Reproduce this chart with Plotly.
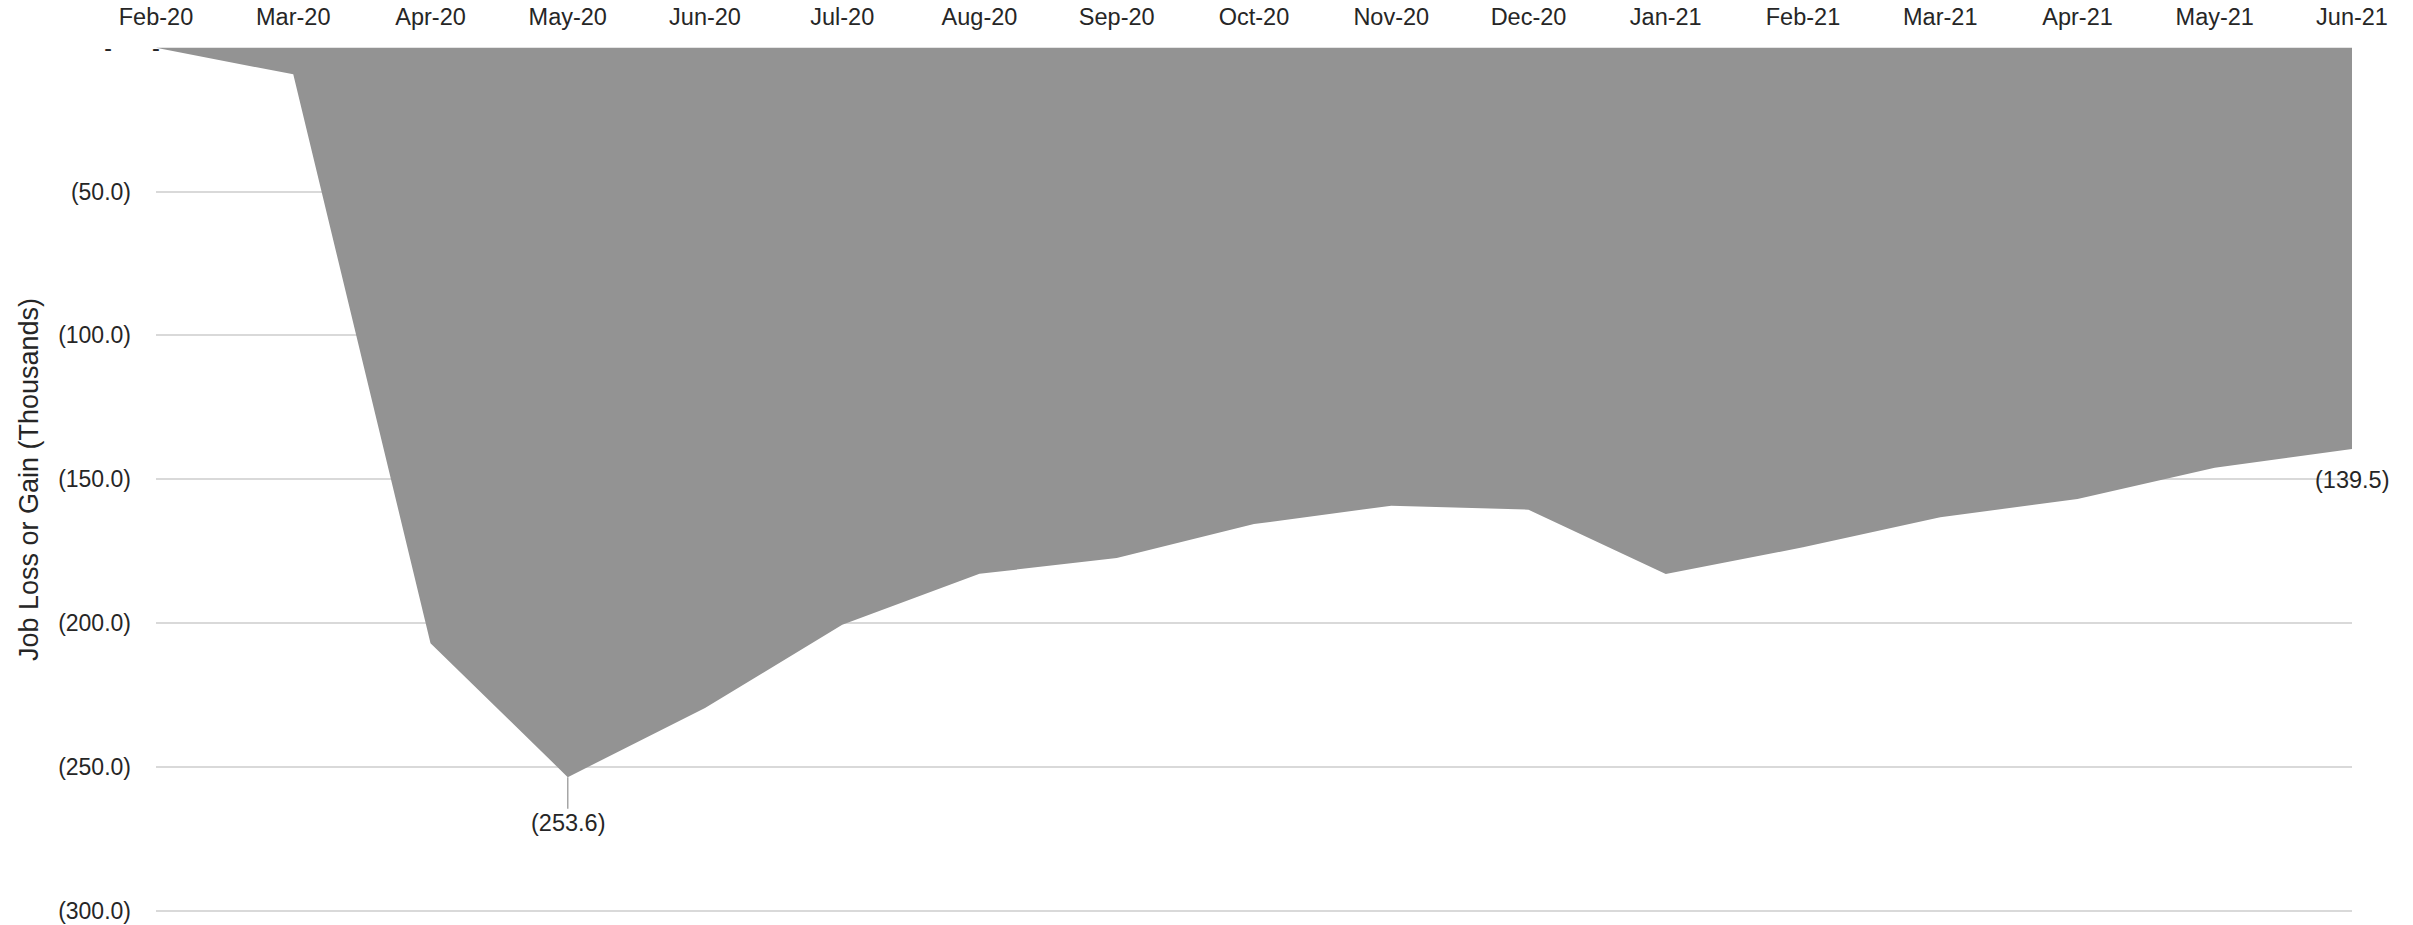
import plotly.graph_objects as go

months = ["Feb-20", "Mar-20", "Apr-20", "May-20", "Jun-20", "Jul-20", "Aug-20", "Sep-20",
          "Oct-20", "Nov-20", "Dec-20", "Jan-21", "Feb-21", "Mar-21", "Apr-21", "May-21", "Jun-21"]
values = [0.0, -9.2, -207.0, -253.6, -229.6, -200.6, -182.9, -177.4,
          -165.6, -159.2, -160.6, -183.0, -173.7, -163.2, -156.9, -146.0, -139.5]

y_tickvals = [0, -50, -100, -150, -200, -250, -300]
y_ticktext = ["-\u00a0\u00a0\u00a0", "(50.0)", "(100.0)", "(150.0)", "(200.0)", "(250.0)", "(300.0)"]

FONT = "Liberation Sans, Arial, sans-serif"
TXT = "#262626"

x_idx = list(range(len(months)))

fig = go.Figure()
fig.add_trace(go.Scatter(
    x=x_idx, y=values, mode="lines", fill="tozeroy",
    fillcolor="#939393", line=dict(width=0, color="#939393"),
    hoverinfo="skip", showlegend=False,
))

def fmt(v):
    if v == 0:
        return "-"
    return f"({abs(v):.1f})" if v < 0 else f"{v:.1f}"

# data labels: first, minimum, last
i_min = values.index(min(values))
i_last = len(values) - 1
fig.add_annotation(x=x_idx[0], y=values[0], text=fmt(values[0]), showarrow=False,
                   font=dict(family=FONT, size=23.5, color=TXT), xanchor="center", yanchor="middle")
fig.add_annotation(x=x_idx[i_min], y=values[i_min], text=fmt(values[i_min]), showarrow=True,
                   arrowhead=0, arrowwidth=1.5, arrowcolor="#a6a6a6", ax=0, ay=46,
                   font=dict(family=FONT, size=23.5, color=TXT))
fig.add_annotation(x=x_idx[i_last], y=values[i_last], text=fmt(values[i_last]), showarrow=False,
                   yshift=-31, xanchor="center", yanchor="middle",
                   font=dict(family=FONT, size=23.5, color=TXT))

fig.update_layout(
    width=2413, height=925,
    margin=dict(l=156, r=61, t=47, b=13),
    paper_bgcolor="white", plot_bgcolor="white",
    font=dict(family=FONT, size=23, color=TXT),
    showlegend=False,
)
fig.update_xaxes(
    side="top", range=[0, len(months) - 1], automargin=False,
    tickmode="array", tickvals=x_idx, ticktext=months,
    showgrid=False, zeroline=False, showline=False, ticks="",
    ticklabelstandoff=16,
    tickfont=dict(family=FONT, size=23.5, color=TXT),
)
fig.update_yaxes(
    range=[-300.5, 0.3], automargin=False,
    tickmode="array", tickvals=y_tickvals, ticktext=y_ticktext,
    showgrid=True, gridcolor="#d9d9d9", gridwidth=1.5,
    zeroline=False, showline=False, ticks="",
    ticklabelstandoff=24,
    tickfont=dict(family=FONT, size=23, color=TXT),
    title=dict(text="Job Loss or Gain (Thousands)", font=dict(family=FONT, size=27, color=TXT), standoff=11),
)

fig.write_html("out.html")
